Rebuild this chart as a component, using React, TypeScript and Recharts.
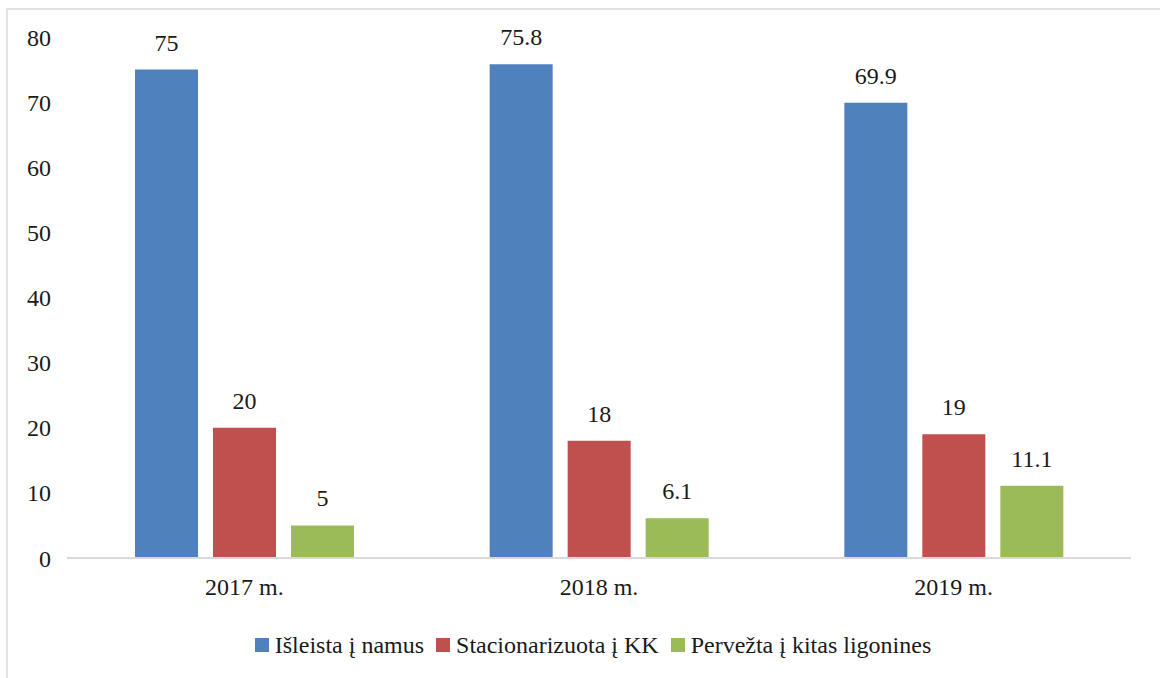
import React from 'react';
import { BarChart, Bar, XAxis, YAxis, Legend, LabelList } from 'recharts';

const categories = ['2017 m.', '2018 m.', '2019 m.'];
const isleista = [75, 75.8, 69.9];
const stacionarizuota = [20, 18, 19];
const pervezta = [5, 6.1, 11.1];
const yTicks = [0, 10, 20, 30, 40, 50, 60, 70, 80];
const seriesNames = ['Išleista į namus', 'Stacionarizuota į KK', 'Pervežta į kitas ligonines'];
const seriesColors = ['#4f81bd', '#c0504d', '#9bbb59'];

const data = categories.map((c, i) => ({
  name: c,
  a: isleista[i],
  b: stacionarizuota[i],
  c: pervezta[i],
}));

const font = '"Liberation Serif", "Times New Roman", serif';
const textColor = '#1a1a1a';

const LegendContent = () => (
  <div
    style={{
      display: 'flex',
      justifyContent: 'center',
      alignItems: 'center',
      width: 1160,
      paddingLeft: 26,
      paddingTop: 10,
      boxSizing: 'border-box',
      height: 40,
      fontFamily: font,
      fontSize: 24,
      color: textColor,
    }}
  >
    {seriesNames.map((n, i) => (
      <div key={n} style={{ display: 'flex', alignItems: 'center', marginRight: i < 2 ? 12 : 0 }}>
        <span style={{ display: 'inline-block', width: 14, height: 14, background: seriesColors[i], marginRight: 6 }} />
        <span style={{ whiteSpace: 'nowrap' }}>{n}</span>
      </div>
    ))}
  </div>
);

export default function App() {
  return (
    <div style={{ position: 'absolute', left: 0, top: 0, width: 1160, height: 678, background: '#fff', overflow: 'hidden' }}>
      <div style={{ position: 'absolute', left: 6, top: 8, width: 1200, height: 700, borderTop: '2px solid #e2e2e2', borderLeft: '2px solid #e2e2e2' }} />
      <div style={{ position: 'absolute', left: 0, top: 0 }}>
        <BarChart
          width={1160}
          height={678}
          data={data}
          margin={{ top: 37, right: 29, left: 0, bottom: 0 }}
          barSize={63}
          barGap={15}
        >
          <YAxis
            width={67}
            domain={[0, 80]}
            ticks={yTicks}
            axisLine={false}
            tickLine={false}
            tickMargin={10}
            interval={0}
            tick={{ fill: textColor, fontSize: 24, fontFamily: font }}
          />
          <XAxis
            dataKey="name"
            height={62}
            axisLine={{ stroke: '#d9d9d9', strokeWidth: 2 }}
            tickLine={false}
            tickMargin={14}
            tick={{ fill: textColor, fontSize: 24, fontFamily: font }}
          />
          <Legend verticalAlign="bottom" height={58} content={<LegendContent />} wrapperStyle={{ left: 0, width: 1160 }} />
          <Bar dataKey="a" name={seriesNames[0]} fill={seriesColors[0]} isAnimationActive={false}>
            <LabelList dataKey="a" position="top" offset={19} style={{ fill: textColor, fontSize: 24, fontFamily: font }} />
          </Bar>
          <Bar dataKey="b" name={seriesNames[1]} fill={seriesColors[1]} isAnimationActive={false}>
            <LabelList dataKey="b" position="top" offset={19} style={{ fill: textColor, fontSize: 24, fontFamily: font }} />
          </Bar>
          <Bar dataKey="c" name={seriesNames[2]} fill={seriesColors[2]} isAnimationActive={false}>
            <LabelList dataKey="c" position="top" offset={19} style={{ fill: textColor, fontSize: 24, fontFamily: font }} />
          </Bar>
        </BarChart>
      </div>
    </div>
  );
}
